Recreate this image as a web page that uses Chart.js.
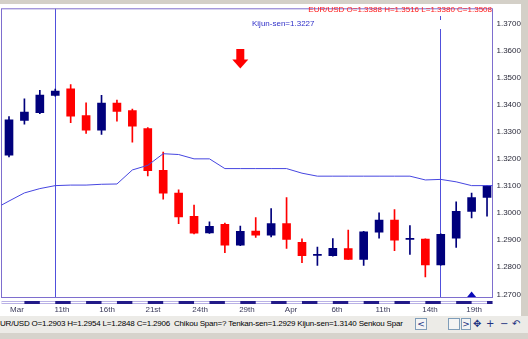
<!DOCTYPE html>
<html><head><meta charset="utf-8">
<script src="https://cdn.jsdelivr.net/npm/chart.js@4"></script>
<style>
html,body{margin:0;padding:0;background:#d4d0c8;}
#wrap{position:relative;width:528px;height:339px;overflow:hidden;}
canvas{position:absolute;left:0;top:0;}
.t{position:absolute;font-family:"Liberation Sans",Arial,sans-serif;white-space:nowrap;line-height:1;}
#bar{position:absolute;left:0;top:316px;width:528px;height:17px;background:#ecebe7;}
#bar2{position:absolute;left:0;top:333px;width:528px;height:6px;background:#d6d3cc;}
.btn{position:absolute;top:318px;height:12px;border:1px solid #7f9db9;background:#f4f4f4;box-sizing:border-box;font-family:"DejaVu Sans",sans-serif;font-size:9px;line-height:10px;text-align:center;color:#203080;}
.g{position:absolute;top:318px;font-family:"DejaVu Sans",sans-serif;font-size:10px;line-height:12px;color:#203080;}
</style></head><body>
<div id="wrap">
<canvas id="c" width="528" height="339"></canvas>
<div class="t" style="right:36px;top:6px;font-size:8px;color:#ff1a1a;">EUR/USD O=1.3388 H=1.3516 L=1.3380 C=1.3508</div>
<div class="t" style="left:252px;top:20px;font-size:8px;color:#3030c8;">Kijun-sen=1.3227</div>
<div id="bar"></div><div id="bar2"></div>
<div class="t" style="left:0;top:320px;font-size:8px;letter-spacing:-0.2px;color:#000;">UR/USD O=1.2903 H=1.2954 L=1.2848 C=1.2906&nbsp; Chikou Span=? Tenkan-sen=1.2929 Kijun-sen=1.3140 Senkou Spar</div>
<div class="btn" style="left:415px;width:12px;">&lt;</div>
<div class="btn" style="left:448px;width:12px;"></div>
<div class="btn" style="left:461px;width:10px;">&gt;</div>
<div class="g" style="left:473px;">✥</div>
<div class="g" style="left:486px;">+</div>
<div class="g" style="left:500px;">−</div>
<div class="g" style="left:512px;">↶</div>
</div>
<script>
const opens  = [1.3215,1.3343,1.3372,1.3436,1.3460,1.3361,1.3307,1.3407,1.3380,1.3313,1.3159,1.3074,1.2988,1.2927,1.2959,1.2882,1.2934,1.2919,1.2962,1.2892,1.2844,1.2843,1.2869,1.2829,1.2930,1.2975,1.2903,1.2904,1.2809,1.2908,1.3007,1.3058];
const highs  = [1.3357,1.3423,1.3454,1.3459,1.3476,1.3408,1.3436,1.3418,1.3385,1.3317,1.3226,1.3086,1.3030,1.2968,1.2963,1.2952,1.2984,1.3017,1.3058,1.2905,1.2875,1.2906,1.2938,1.2933,1.3001,1.3013,1.2954,1.2905,1.2924,1.3042,1.3074,1.3102];
const lows   = [1.3208,1.3329,1.3368,1.3433,1.3335,1.3295,1.3291,1.3340,1.3263,1.3138,1.3052,1.2961,1.2923,1.2925,1.2854,1.2880,1.2910,1.2912,1.2870,1.2817,1.2807,1.2841,1.2829,1.2807,1.2908,1.2861,1.2848,1.2764,1.2808,1.2873,1.2983,1.2989];
const closes = [1.3345,1.3374,1.3437,1.3452,1.3359,1.3307,1.3407,1.3376,1.3322,1.3157,1.3074,1.2986,1.2926,1.2951,1.2882,1.2933,1.2919,1.2962,1.2903,1.2843,1.2847,1.2870,1.2829,1.2931,1.2975,1.2900,1.2906,1.2809,1.2922,1.3007,1.3058,1.3101];
// Kijun-sen, starting one bar before the first visible candle
const kijunStart = -1;
const kijun = [1.3014,1.3045,1.3075,1.3091,1.3102,1.3104,1.3104,1.3107,1.3108,1.3160,1.3177,1.3220,1.3217,1.3201,1.3201,1.3165,1.3165,1.3165,1.3165,1.3165,1.3148,1.3137,1.3137,1.3137,1.3137,1.3137,1.3137,1.3137,1.3123,1.3125,1.3116,1.3102,1.3102,1.3102];
const xTickPos    = [0.52,3.44,6.36,9.34,12.39,15.43,18.29,21.27,24.25,27.30,30.16];
const xTickLabels = ["Mar","11th","16th","21st","24th","29th","Apr","6th","11th","14th","19th"];
const yTickValues = [1.27,1.28,1.29,1.30,1.31,1.32,1.33,1.34,1.35,1.36,1.37];
const cursorBars = [3,28];
const sellSignal = [15];
const markerBar = [30];

const NAVY='#00007c', RED='#ff0000', KIJUN='#4646e0', FRAME='#7e6ece';
const upDown = c => closes[c.dataIndex] >= opens[c.dataIndex] ? NAVY : RED;

const decor = {
  id:'decor',
  beforeDraw(chart){
    const ctx=chart.ctx;
    ctx.save();
    ctx.fillStyle='#d4d0c8'; ctx.fillRect(0,0,528,339);
    ctx.fillStyle='#ffffff'; ctx.fillRect(0,4,521,312);
    ctx.restore();
  },
  beforeDatasetsDraw(chart){
    const {ctx,chartArea:a,scales:{x}}=chart;
    ctx.save();
    ctx.strokeStyle='#5050dc'; ctx.lineWidth=1;
    cursorBars.forEach((b,k)=>{
      const px=Math.round(x.getPixelForValue(b)-0.5)+0.5;
      ctx.beginPath();
      if(k===0){ctx.moveTo(px,a.top);ctx.lineTo(px,a.bottom);}
      else {ctx.moveTo(px,16);ctx.lineTo(px,20);ctx.moveTo(px,29);ctx.lineTo(px,a.bottom);}
      ctx.stroke();
    });
    const y0=301;
    ctx.fillStyle='#b9b1e6'; ctx.fillRect(a.left,y0,a.right-a.left,3);
    ctx.fillStyle='#ffffff'; ctx.fillRect(a.left,y0+1,a.right-a.left,1);
    ctx.fillStyle='#221a88';
    for(let i=1;i<opens.length;i+=2){
      const p0=x.getPixelForValue(i), p1=Math.min(x.getPixelForValue(i+1),a.right);
      ctx.fillRect(p0,y0,p1-p0,3);
    }
    ctx.strokeStyle=FRAME;
    ctx.strokeRect(a.left,a.top,a.right-a.left,a.bottom-a.top);
    ctx.restore();
  },
  afterDatasetsDraw(chart){
    const {ctx,chartArea:a,scales:{x}}=chart;
    ctx.save();
    ctx.fillStyle='#ff0000';
    sellSignal.forEach(b=>{
      const px=x.getPixelForValue(b);
      ctx.fillRect(px-4,49,8,11);
      ctx.beginPath();ctx.moveTo(px-8,59.5);ctx.lineTo(px+8,59.5);ctx.lineTo(px,68.5);ctx.closePath();ctx.fill();
    });
    ctx.fillStyle='#0a0ab8';
    markerBar.forEach(b=>{
      const px=x.getPixelForValue(b);
      ctx.beginPath();ctx.moveTo(px-4.5,a.bottom-0.5);ctx.lineTo(px+4.5,a.bottom-0.5);ctx.lineTo(px,a.bottom-6);ctx.closePath();ctx.fill();
    });
    ctx.restore();
  }
};

new Chart(document.getElementById('c'),{
  type:'line',
  data:{datasets:[
    {type:'line',data:kijun.map((v,k)=>({x:k+kijunStart,y:v})),borderColor:KIJUN,borderWidth:1,pointRadius:0,tension:0,fill:false,order:0},
    {type:'bar',data:opens.map((o,i)=>({x:i,y:[o,closes[i]]})),backgroundColor:upDown,borderWidth:0,barThickness:8,grouped:false,minBarLength:1,order:1},
    {type:'bar',data:lows.map((l,i)=>({x:i,y:[l,highs[i]]})),backgroundColor:upDown,borderWidth:0,barThickness:1,grouped:false,order:2}
  ]},
  options:{
    responsive:false,animation:false,devicePixelRatio:1,
    layout:{padding:{left:1.5,top:4.5,right:4.5,bottom:0}},
    plugins:{legend:{display:false},tooltip:{enabled:false}},
    scales:{
      x:{type:'linear',min:-0.486,max:31.355,offset:false,
        grid:{display:false,drawTicks:false},border:{display:false},
        afterBuildTicks:s=>{s.ticks=xTickPos.map(v=>({value:v}));},
        afterFit:s=>{s.height=41.5;},
        ticks:{autoSkip:false,maxRotation:0,padding:7,color:'#3a3a5a',font:{family:'Liberation Sans',size:8},
          callback:(v,i)=>xTickLabels[i]}},
      y:{type:'linear',position:'right',min:1.26882,max:1.3756,
        grid:{display:false,drawTicks:false},border:{display:false},
        afterBuildTicks:s=>{s.ticks=yTickValues.map(v=>({value:v}));},
        afterFit:s=>{s.width=31;},
        ticks:{padding:4,color:'#2a2a3a',font:{family:'Liberation Sans',size:8},
          callback:v=>Number(v).toFixed(4)}}
    }
  },
  plugins:[decor]
});
</script>
</body></html>
